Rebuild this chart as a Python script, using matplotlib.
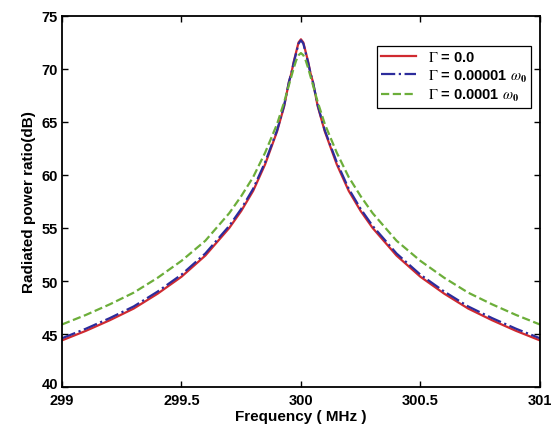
import numpy as np
import matplotlib
matplotlib.use('Agg')
import matplotlib.pyplot as plt
import matplotlib.transforms as mtransforms

plt.rcParams['font.family'] = ['Liberation Sans', 'DejaVu Sans']
plt.rcParams['mathtext.fontset'] = 'stix'

# offsets from the 300 MHz resonance (MHz); curves are read as symmetric about it
offsets = [0.0, 0.01, 0.02, 0.03, 0.04, 0.05, 0.07, 0.10, 0.15, 0.20,
           0.25, 0.30, 0.40, 0.50, 0.60, 0.70, 0.80, 0.90, 1.00]
f0 = 300.0

# radiated power ratio (dB)
gamma_0 = [72.8, 72.5, 71.6, 70.7, 69.6, 68.8, 66.5, 64.1, 61.0, 58.5,
           56.6, 55.0, 52.4, 50.4, 48.8, 47.4, 46.3, 45.3, 44.4]
gamma_1e5 = [72.7, 72.4, 71.5, 70.6, 69.6, 68.8, 66.6, 64.2, 61.2, 58.7,
             56.8, 55.2, 52.6, 50.6, 49.0, 47.6, 46.5, 45.5, 44.6]
gamma_1e4 = [71.5, 71.3, 70.8, 70.1, 69.3, 68.5, 66.9, 64.8, 62.1, 59.8,
             58.0, 56.4, 53.8, 51.9, 50.3, 48.9, 47.8, 46.8, 45.9]

labels = [r'$\Gamma$ = 0.0',
          r'$\Gamma$ = 0.00001 $\omega_\mathbf{0}$',
          r'$\Gamma$ = 0.0001 $\omega_\mathbf{0}$']


def mirror(vals):
    '''full curve from the one-sided readings'''
    d = np.array(offsets)
    v = np.array(vals)
    f = np.concatenate((f0 - d[::-1], f0 + d[1:]))
    p = np.concatenate((v[::-1], v[1:]))
    return f, p


fig = plt.figure(figsize=(5.56, 4.35), dpi=100)
ax = fig.add_axes([0.1115, 0.108, 0.8595, 0.853])

f, p = mirror(gamma_0)
ax.plot(f, p, color='#d02a30', lw=1.6, ls='-', label=labels[0])
f, p = mirror(gamma_1e5)
ax.plot(f, p, color='#2c2c9c', lw=1.6, ls='-.', label=labels[1])
f, p = mirror(gamma_1e4)
ax.plot(f, p, color='#6cae3a', lw=1.6, ls='--', label=labels[2])

ax.set_xlim(299, 301)
ax.set_ylim(40, 75)
ax.set_xticks([299, 299.5, 300, 300.5, 301])
ax.set_xticklabels(['299', '299.5', '300', '300.5', '301'])
ax.set_yticks([40, 45, 50, 55, 60, 65, 70, 75])
ax.tick_params(direction='in', top=True, right=True, length=4, width=1,
               labelsize=10.5, pad=3)
ax.tick_params(axis='x', pad=4)
for lab in ax.get_xticklabels() + ax.get_yticklabels():
    lab.set_fontweight('bold')
# the "40" sits just above "299" in the original
lab40 = ax.get_yticklabels()[0]
lab40.set_transform(lab40.get_transform() +
                    mtransforms.ScaledTranslation(0, 3 / 72, fig.dpi_scale_trans))
for s in ax.spines.values():
    s.set_linewidth(1.3)

ax.set_xlabel('Frequency ( MHz )', fontsize=11, fontweight='bold', labelpad=2)
ax.set_ylabel('Radiated power ratio(dB)', fontsize=11, fontweight='bold', labelpad=4)

leg = ax.legend(loc='upper right', bbox_to_anchor=(0.997, 0.94), fancybox=False,
                edgecolor='black', framealpha=1, handlelength=2.4,
                borderpad=0.3, labelspacing=0.25, handletextpad=0.8,
                prop={'weight': 'bold', 'size': 10.5})
leg.get_frame().set_linewidth(0.9)

fig.savefig('out.png', dpi=100)
